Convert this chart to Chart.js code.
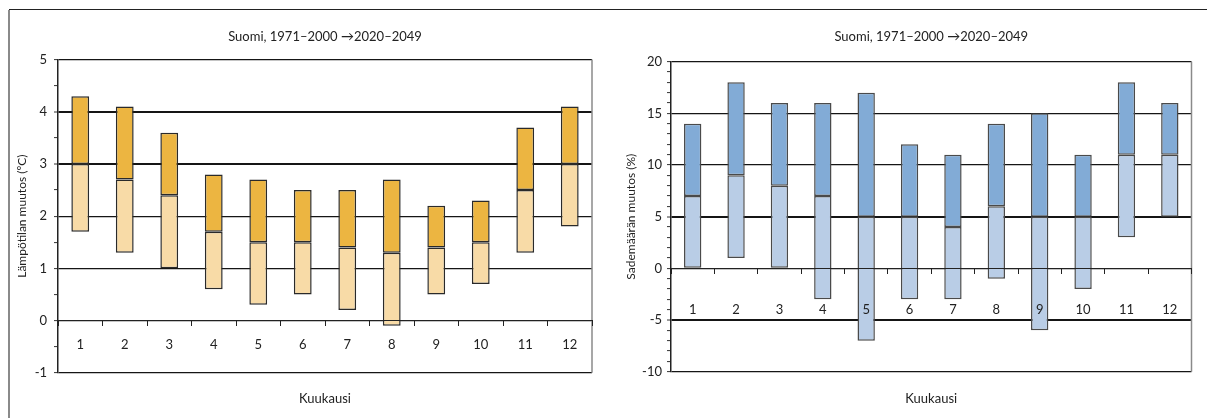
<!DOCTYPE html>
<html>
<head>
<meta charset="utf-8">
<script src="https://cdn.jsdelivr.net/npm/chart.js@4/dist/chart.umd.min.js"></script>
<style>
  html, body { margin: 0; padding: 0; background: #fff; }
  body { width: 1207px; height: 418px; position: relative; overflow: hidden; }
  #frameTop { position: absolute; left: 9px; top: 9px; width: 1198px; height: 0; border-top: 1.5px solid #222; }
  #frameLeft { position: absolute; left: 8px; top: 10px; width: 0; height: 408px; border-left: 2px solid #8a8a8a; }
  #c1 { position: absolute; left: 0; top: 0; }
  #c2 { position: absolute; left: 612px; top: 0; }
</style>
</head>
<body>
<div id="frameTop"></div>
<div id="frameLeft"></div>
<canvas id="c1" width="612" height="418"></canvas>
<canvas id="c2" width="595" height="418"></canvas>
<script>
// ---- data ----
const months = ['1','2','3','4','5','6','7','8','9','10','11','12'];

const tempLow  = [1.7, 1.3, 1.0, 0.6, 0.3, 0.5, 0.2, -0.1, 0.5, 0.7, 1.3, 1.8];
const tempMid  = [3.0, 2.7, 2.4, 1.7, 1.5, 1.5, 1.4, 1.3, 1.4, 1.5, 2.5, 3.0];
const tempHigh = [4.3, 4.1, 3.6, 2.8, 2.7, 2.5, 2.5, 2.7, 2.2, 2.3, 3.7, 4.1];

const precLow  = [0, 1, 0, -3, -7, -3, -3, -1, -6, -2, 3, 5];
const precMid  = [7, 9, 8, 7, 5, 5, 4, 6, 5, 5, 11, 11];
const precHigh = [14, 18, 16, 16, 17, 12, 11, 14, 15, 11, 18, 16];

const titleText = 'Suomi, 1971–2000 →2020–2049';
const xTitle = 'Kuukausi';
const tempAxisTitle = 'Lämpötilan muutos (ºC)';
const precAxisTitle = 'Sademäärän muutos (%)';

// ---- styling ----
const FONT = 'Lato, "Open Sans", sans-serif';
const TXT = '#222';

const rightBorder = {
  id: 'rightBorder',
  beforeDatasetsDraw(chart) {
    const a = chart.chartArea, c = chart.ctx;
    c.save();
    c.strokeStyle = '#8a8a8a';
    c.lineWidth = 1.5;
    c.beginPath();
    c.moveTo(a.right, a.top);
    c.lineTo(a.right, a.bottom);
    c.stroke();
    c.restore();
  }
};

function makeChart(id, cfg) {
  const lowerData = months.map((m, i) => [cfg.low[i], cfg.mid[i]]);
  const upperData = months.map((m, i) => [cfg.mid[i], cfg.high[i]]);
  return new Chart(document.getElementById(id), {
    type: 'bar',
    data: {
      labels: months,
      datasets: [
        { data: lowerData, backgroundColor: cfg.light, borderColor: cfg.border, borderWidth: 1.5, borderSkipped: false },
        { data: upperData, backgroundColor: cfg.dark, borderColor: cfg.border, borderWidth: 1.5, borderSkipped: false }
      ]
    },
    options: {
      responsive: false,
      animation: false,
      events: [],
      datasets: { bar: { grouped: false, categoryPercentage: 1, barPercentage: 0.4 } },
      layout: { padding: { left: 0, right: cfg.padRight, top: 0, bottom: 0 } },
      plugins: {
        legend: { display: false },
        tooltip: { enabled: false },
        title: {
          display: true, text: titleText, fullSize: false,
          color: TXT, font: { family: FONT, size: 13, weight: 'normal' },
          padding: { top: 29, bottom: cfg.titleBottom }
        },
        subtitle: {
          display: true, text: xTitle, position: 'bottom', fullSize: false,
          color: TXT, font: { family: FONT, size: 13, weight: 'normal' },
          padding: { top: cfg.subTop, bottom: 11 }
        }
      },
      scales: {
        x: {
          type: 'category',
          position: { y: 0 },
          offset: true,
          grid: { z: 1, offset: true, drawOnChartArea: false, drawTicks: true, tickLength: 5, tickColor: '#222', tickWidth: 1 },
          border: { z: 1, display: true, color: '#222', width: 1 },
          ticks: { z: 1, padding: cfg.xPad, color: TXT, font: { family: FONT, size: 13 }, maxRotation: 0, autoSkip: false },
          afterFit: s => { s.height = 0; }
        },
        y: {
          min: cfg.min, max: cfg.max,
          afterFit: s => { s.width = cfg.yWidth; },
          afterBuildTicks: s => {
            const t = [];
            for (let v = cfg.min; v <= cfg.max + 1e-9; v += cfg.minor) t.push({ value: Math.round(v * 100) / 100 });
            s.ticks = t;
          },
          ticks: {
            autoSkip: false,
            padding: cfg.yPad,
            color: TXT,
            font: { family: FONT, size: 13 },
            callback: v => (Math.abs(v / cfg.major - Math.round(v / cfg.major)) < 1e-6 ? String(v) : '')
          },
          grid: {
            drawTicks: true, tickLength: 4, tickColor: '#333', tickWidth: 1,
            color: ctx => {
              const v = ctx.tick ? ctx.tick.value : 0;
              return Math.abs(v / cfg.major - Math.round(v / cfg.major)) < 1e-6 ? '#151515' : 'rgba(0,0,0,0)';
            },
            lineWidth: ctx => {
              const v = ctx.tick ? ctx.tick.value : 0;
              return cfg.thick.includes(v) ? 2 : 1.2;
            }
          },
          border: { display: true, color: '#222', width: 1.5 },
          title: {
            display: true, text: cfg.yTitle, color: TXT,
            font: { family: FONT, size: 12 },
            padding: { top: cfg.yTitlePad, bottom: 0 }
          }
        }
      }
    },
    plugins: [rightBorder]
  });
}

makeChart('c1', {
  low: tempLow, mid: tempMid, high: tempHigh,
  light: '#F8DBA7', dark: '#ECB541', border: '#2a2a2a',
  min: -1, max: 5, minor: 0.5, major: 1, thick: [3, 4],
  yWidth: 58, padRight: 20, titleBottom: 15, subTop: 18.7, xPad: 11, yPad: 7,
  yTitle: tempAxisTitle, yTitlePad: 14.5
});

makeChart('c2', {
  low: precLow, mid: precMid, high: precHigh,
  light: '#B9CDE6', dark: '#82ABD6', border: '#4a4a4a',
  min: -10, max: 20, minor: 1, major: 5, thick: [5, -5],
  yWidth: 59, padRight: 6, titleBottom: 17.1, subTop: 19.7, xPad: 29, yPad: 5,
  yTitle: precAxisTitle, yTitlePad: 12
});
</script>
</body>
</html>
